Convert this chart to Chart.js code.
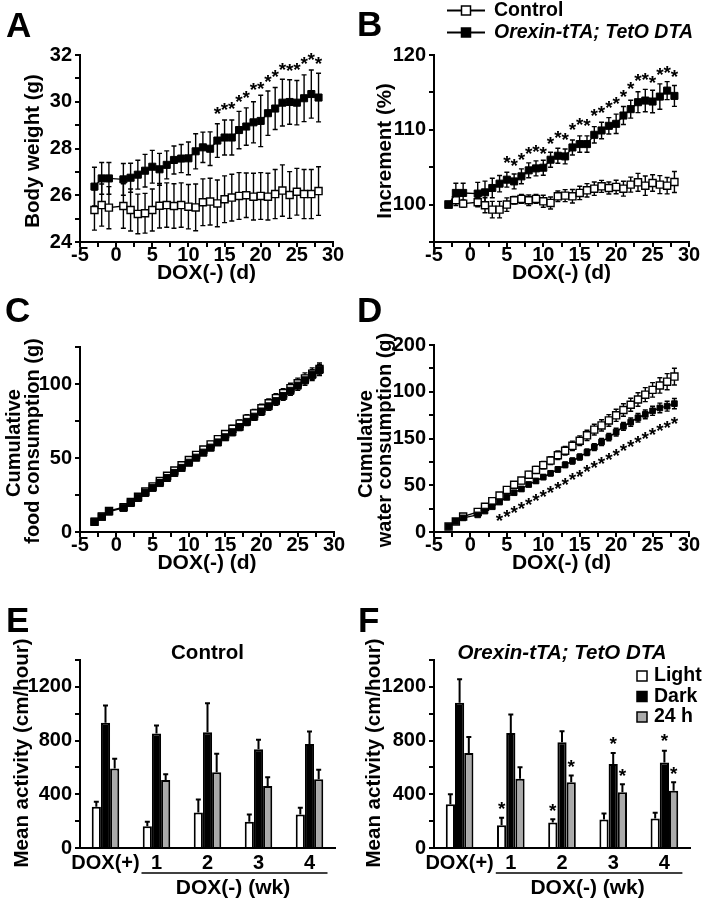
<!DOCTYPE html>
<html>
<head>
<meta charset="utf-8">
<title>Orexin-tTA; TetO DTA</title>
<script src="https://cdn.jsdelivr.net/npm/chart.js@4.4.1/dist/chart.umd.min.js"></script>
<style>
  html, body { margin: 0; background: #fff; }
  #figure { position: relative; width: 704px; height: 900px; }
  #figure canvas { position: absolute; }
</style>
</head>
<body>
<div id="figure">
  <canvas id="panelA" width="352" height="290" style="left:0;top:0"></canvas>
  <canvas id="panelB" width="352" height="290" style="left:352px;top:0"></canvas>
  <canvas id="panelC" width="352" height="290" style="left:0;top:290px"></canvas>
  <canvas id="panelD" width="352" height="290" style="left:352px;top:290px"></canvas>
  <canvas id="panelE" width="352" height="320" style="left:0;top:580px"></canvas>
  <canvas id="panelF" width="352" height="320" style="left:352px;top:580px"></canvas>
</div>
<script>
'use strict';

// ---- data ----
const days = [-3, -2, -1, 1, 2, 3, 4, 5, 6, 7, 8, 9, 10, 11, 12, 13, 14, 15, 16, 17, 18, 19, 20, 21, 22, 23, 24, 25, 26, 27, 28];

// A: body weight (g)
const weightCtrl = [25.37, 25.58, 25.47, 25.54, 25.37, 25.20, 25.23, 25.37, 25.55, 25.58, 25.54, 25.58, 25.51, 25.48, 25.70, 25.73, 25.65, 25.83, 25.90, 25.97, 26.00, 25.94, 25.97, 25.94, 26.05, 26.20, 26.01, 26.15, 26.05, 26.05, 26.18];
const weightCtrlErr = [0.86, 0.90, 0.90, 0.95, 0.90, 0.85, 0.85, 0.90, 0.95, 0.95, 0.95, 0.95, 0.95, 1.00, 1.00, 1.00, 1.00, 1.00, 1.00, 1.00, 0.95, 1.00, 1.00, 1.00, 1.05, 1.10, 1.00, 1.00, 1.05, 1.05, 1.04];
const weightDta = [26.37, 26.72, 26.72, 26.68, 26.75, 26.88, 27.05, 27.22, 27.11, 27.30, 27.51, 27.57, 27.58, 27.88, 28.05, 27.99, 28.34, 28.47, 28.47, 28.79, 28.94, 29.12, 29.18, 29.51, 29.71, 29.96, 29.99, 29.96, 30.15, 30.33, 30.18];
const weightDtaErr = [0.83, 0.68, 0.68, 0.68, 0.62, 0.62, 0.70, 0.70, 0.68, 0.60, 0.60, 0.60, 0.70, 0.75, 0.65, 0.72, 0.72, 0.75, 0.75, 0.80, 0.80, 0.88, 1.10, 0.95, 0.90, 1.00, 0.95, 0.95, 1.00, 1.03, 1.04];
const weightStarDays = [14, 15, 16, 17, 18, 19, 20, 21, 22, 23, 24, 25, 26, 27, 28];
const weightStarVals = [29.65, 29.82, 29.86, 30.19, 30.36, 30.68, 30.75, 31.05, 31.25, 31.57, 31.50, 31.53, 31.79, 31.96, 31.82];

// B: increment (%)
const incCtrl = [100, 100.58, 100.13, 100.31, 99.91, 99.33, 99.33, 100.0, 100.58, 100.76, 100.58, 100.76, 100.44, 100.22, 101.11, 101.2, 101.11, 101.56, 101.91, 102.13, 102.44, 102.22, 102.36, 102.13, 102.67, 102.98, 102.53, 102.89, 102.67, 102.53, 103.02];
const incCtrlErr = [0.2, 0.7, 0.5, 0.6, 1.0, 1.1, 1.1, 0.9, 0.5, 0.6, 0.7, 0.6, 0.8, 0.8, 0.7, 0.8, 0.9, 0.9, 0.9, 0.9, 0.8, 0.8, 0.9, 1.0, 1.0, 1.2, 1.3, 1.1, 1.2, 1.1, 1.4];
const incDta = [100, 101.56, 101.56, 101.47, 101.64, 102.22, 102.8, 103.33, 103.1, 103.78, 104.58, 104.84, 104.93, 106.0, 106.53, 106.44, 107.64, 108.09, 108.09, 109.33, 109.91, 110.53, 110.8, 111.91, 112.76, 113.69, 113.91, 113.78, 114.44, 115.24, 114.53];
const incDtaErr = [0.2, 1.3, 1.3, 1.5, 1.5, 1.3, 1.1, 1.0, 1.0, 1.0, 1.0, 1.0, 1.0, 1.0, 1.0, 1.0, 1.0, 1.1, 1.1, 1.1, 1.1, 1.1, 1.3, 1.2, 1.2, 1.4, 1.5, 1.5, 1.7, 1.2, 1.4];
const incStarDays = [5, 6, 7, 8, 9, 10, 11, 12, 13, 14, 15, 16, 17, 18, 19, 20, 21, 22, 23, 24, 25, 26, 27, 28];
const incStarVals = [106.22, 105.78, 106.53, 107.42, 107.69, 107.42, 108.76, 109.47, 109.2, 110.53, 111.2, 111.11, 112.44, 112.89, 113.56, 114.0, 114.98, 116.0, 117.11, 117.2, 116.89, 117.91, 118.22, 117.64];

// C: cumulative food consumption (g)
const foodCtrl = [7.0, 10.5, 14.2, 16.8, 20.2, 23.8, 27.3, 30.8, 34.4, 38.0, 41.5, 45.1, 48.6, 52.1, 55.7, 59.2, 62.7, 66.2, 69.7, 73.2, 76.6, 80.1, 83.6, 87.0, 90.4, 93.8, 97.2, 100.5, 103.8, 107.0, 110.2];
const foodCtrlErr = [0.5, 0.6, 0.7, 0.8, 0.9, 1.0, 1.1, 1.2, 1.3, 1.4, 1.5, 1.6, 1.7, 1.8, 1.9, 2.0, 2.1, 2.2, 2.3, 2.5, 2.6, 2.7, 2.8, 2.9, 3.0, 3.1, 3.3, 3.5, 3.7, 3.9, 4.1];
const foodDta = [6.9, 10.3, 13.8, 16.3, 19.6, 23.0, 26.4, 29.8, 33.1, 36.5, 39.9, 43.3, 46.8, 50.2, 53.6, 57.0, 60.5, 64.0, 67.4, 70.9, 74.4, 77.9, 81.4, 84.9, 88.4, 91.9, 95.4, 98.9, 102.5, 106.0, 109.5];
const foodDtaErr = [0.5, 0.6, 0.7, 0.8, 0.9, 1.0, 1.1, 1.2, 1.3, 1.4, 1.5, 1.6, 1.6, 1.7, 1.8, 1.9, 2.0, 2.1, 2.2, 2.3, 2.4, 2.5, 2.6, 2.7, 2.8, 2.9, 3.0, 3.2, 3.4, 3.6, 3.8];

// D: cumulative water consumption (g); the axis prints its labels in this order
const waterCtrl = [5.8, 11.2, 16.5, 21.5, 27.0, 33.0, 39.0, 45.0, 50.5, 55.0, 61.3, 66.4, 71.5, 76.4, 82.1, 86.9, 92.2, 97.6, 103.4, 109.5, 114.0, 119.3, 124.8, 130.5, 136.1, 141.7, 146.9, 152.0, 156.7, 160.8, 166.2];
const waterCtrlErr = [1.0, 1.2, 1.5, 1.8, 2.0, 2.2, 2.5, 2.7, 3.0, 3.2, 3.5, 3.7, 4.0, 4.2, 4.5, 4.7, 5.0, 5.2, 5.5, 5.7, 6.0, 6.2, 6.5, 6.7, 7.0, 7.2, 7.5, 7.8, 8.2, 8.6, 9.0];
const waterDta = [5.8, 11.4, 15.1, 18.3, 22.4, 27.0, 32.0, 37.0, 42.0, 46.0, 50.8, 54.6, 58.8, 62.8, 67.0, 71.8, 76.0, 80.2, 85.2, 90.8, 96.3, 101.5, 106.8, 113.0, 117.5, 122.2, 125.8, 129.6, 132.7, 134.6, 137.3];
const waterDtaErr = [0.8, 1.0, 1.2, 1.3, 1.5, 1.6, 1.8, 1.9, 2.0, 2.2, 2.3, 2.5, 2.6, 2.8, 2.9, 3.0, 3.2, 3.3, 3.5, 3.6, 3.8, 3.9, 4.1, 4.2, 4.4, 4.5, 4.7, 4.9, 5.1, 5.3, 5.5];
const waterStarDays = [4, 5, 6, 7, 8, 9, 10, 11, 12, 13, 14, 15, 16, 17, 18, 19, 20, 21, 22, 23, 24, 25, 26, 27, 28];
const waterStarVals = [16.0, 20.5, 25.0, 29.5, 34.0, 38.0, 42.5, 46.5, 51.0, 55.5, 60.0, 64.0, 68.5, 73.0, 77.5, 82.0, 86.5, 91.0, 95.5, 100.0, 104.0, 108.5, 112.5, 116.5, 120.5];
const waterTickValues = [0, 50, 100, 150, 200];
const waterTickText = ['0', '50', '150', '100', '200'];

// E, F: mean activity (cm/hour)
const weeks = ['DOX(+)', '1', '2', '3', '4'];
const phases = ['Light', 'Dark', '24 h'];
const ctrlLight = [307, 162, 265, 195, 250];
const ctrlLightErr = [38, 33, 97, 55, 50];
const ctrlDark = [932, 852, 862, 735, 775];
const ctrlDarkErr = [130, 60, 215, 72, 92];
const ctrlDay = [592, 507, 565, 462, 512];
const ctrlDayErr = [73, 43, 137, 65, 70];
const dtaLight = [325, 170, 190, 212, 220];
const dtaLightErr = [75, 55, 25, 45, 42];
const dtaDark = [1082, 857, 787, 625, 637];
const dtaDarkErr = [175, 138, 83, 82, 88];
const dtaDay = [707, 515, 490, 415, 427];
const dtaDayErr = [120, 87, 50, 60, 63];
const dtaStarSeries = [0, 0, 2, 1, 2, 1, 2];
const dtaStarWeeks = [1, 2, 2, 3, 3, 4, 4];
const dtaStarVals = [320, 312, 640, 807, 570, 832, 587];

// ---- drawing ----
const FONT = "'Liberation Sans', Arial, Helvetica, sans-serif";
const INK = '#000';
const GREY = '#aaaaaa';
const STAR_SIZE = 19;

function font(size, style = 'normal') {
    return { family: FONT, size, weight: 'bold', style, lineHeight: 1 };
}

function css(size, style = 'normal', weight = 'bold') {
    return `${style} ${weight} ${size}px ${FONT}`;
}

function points(values) {
    return days.map((d, i) => ({ x: d, y: values[i] }));
}

function text(ctx, str, x, y, size, opts = {}) {
    ctx.save();
    ctx.translate(x, y);
    if (opts.vertical) ctx.rotate(-Math.PI / 2);
    ctx.font = css(size, opts.style || 'normal');
    ctx.fillStyle = INK;
    ctx.textAlign = opts.align || 'center';
    ctx.textBaseline = opts.baseline || 'middle';
    ctx.fillText(str, 0, 0);
    ctx.restore();
}

function star(ctx, x, y) {
    ctx.save();
    ctx.font = css(STAR_SIZE);
    ctx.fillStyle = INK;
    ctx.textAlign = 'center';
    ctx.textBaseline = 'alphabetic';
    ctx.fillText('*', x, y + STAR_SIZE * 0.55);
    ctx.restore();
}

function drawErrorBars(chart, bothWays) {
    const ctx = chart.ctx;
    const yScale = chart.scales.y;
    ctx.save();
    ctx.strokeStyle = INK;
    ctx.lineWidth = bothWays ? 1.4 : 2;
    chart.data.datasets.forEach((ds, i) => {
        if (!ds.errors) return;
        chart.getDatasetMeta(i).data.forEach((el, j) => {
            const raw = ds.data[j];
            const v = typeof raw === 'object' ? raw.y : raw;
            const e = ds.errors[j];
            const top = yScale.getPixelForValue(v + e);
            const bottom = bothWays ? yScale.getPixelForValue(v - e) : el.y;
            ctx.beginPath();
            ctx.moveTo(el.x, top);
            ctx.lineTo(el.x, bottom);
            ctx.moveTo(el.x - 2.5, top);
            ctx.lineTo(el.x + 2.5, top);
            if (bothWays) {
                ctx.moveTo(el.x - 2.5, bottom);
                ctx.lineTo(el.x + 2.5, bottom);
            }
            ctx.stroke();
        });
    });
    ctx.restore();
}

const errorBars = {
    id: 'errorBars',
    beforeDatasetsDraw(chart) {
        if (chart.config.type === 'line') drawErrorBars(chart, true);
    },
    afterDatasetsDraw(chart) {
        if (chart.config.type === 'bar') drawErrorBars(chart, false);
    }
};

function lineStars(starDays, starVals) {
    return {
        id: 'lineStars',
        afterDatasetsDraw(chart) {
            const { x, y } = chart.scales;
            starDays.forEach((d, i) => star(chart.ctx, x.getPixelForValue(d), y.getPixelForValue(starVals[i])));
        }
    };
}

function axisTicks(size, step, min, max, label, extra = {}) {
    return Object.assign({
        type: 'linear',
        min,
        max,
        afterFit: scale => {
            if (scale.isHorizontal()) scale.height = size;
            else scale.width = size;
        },
        ticks: { stepSize: step, autoSkip: false, maxRotation: 0, color: INK, font: font(20), padding: 3, callback: label },
        grid: { drawOnChartArea: false, color: INK, lineWidth: 2, tickLength: 5 },
        border: { color: INK, width: 2 }
    }, extra);
}

function lineChart(id, cfg) {
    const ctrlStyle = {
        borderColor: INK, borderWidth: 1.4, backgroundColor: '#fff',
        pointStyle: 'rect', pointRadius: 5, pointBorderWidth: 1.4, pointBackgroundColor: '#fff', pointBorderColor: INK
    };
    const dtaStyle = {
        borderColor: INK, borderWidth: 1.4, backgroundColor: INK,
        pointStyle: 'rect', pointRadius: cfg.dtaRadius || 5, pointBorderWidth: 1, pointBackgroundColor: INK, pointBorderColor: INK
    };
    const x = axisTicks(290 - 242, 2.5, -5, 30, v => (v % 5 === 0 ? v : ''), {
        title: { display: true, text: 'DOX(-) (d)', color: INK, font: font(21), padding: { top: 0, bottom: 6.5 } }
    });
    x.ticks.padding = -2;
    return new Chart(document.getElementById(id), {
        type: 'line',
        data: {
            datasets: [
                Object.assign({ label: 'Orexin-tTA; TetO DTA', data: points(cfg.dta), errors: cfg.dtaErr, order: 0 }, dtaStyle),
                Object.assign({ label: 'Control', data: points(cfg.ctrl), errors: cfg.ctrlErr, order: 1 }, ctrlStyle)
            ]
        },
        options: {
            responsive: false,
            animation: false,
            layout: { padding: { left: 0, top: cfg.top, right: cfg.right, bottom: 0 } },
            elements: { line: { tension: 0 } },
            plugins: { legend: { display: false }, tooltip: { enabled: false } },
            scales: {
                x,
                y: axisTicks(cfg.left, cfg.step, cfg.min, cfg.max, cfg.label)
            }
        },
        plugins: [errorBars, cfg.stars || { id: 'noStars' }, { id: 'decor', afterDraw: cfg.decor }]
    });
}

function barChart(id, cfg) {
    const common = { borderColor: INK, borderWidth: 2, categoryPercentage: 0.54, barPercentage: 1 };
    return new Chart(document.getElementById(id), {
        type: 'bar',
        data: {
            labels: weeks,
            datasets: [
                Object.assign({ label: phases[0], data: cfg.light, errors: cfg.lightErr, backgroundColor: '#fff' }, common),
                Object.assign({ label: phases[1], data: cfg.dark, errors: cfg.darkErr, backgroundColor: INK }, common),
                Object.assign({ label: phases[2], data: cfg.day, errors: cfg.dayErr, backgroundColor: GREY }, common)
            ]
        },
        options: {
            responsive: false,
            animation: false,
            layout: { padding: { left: 0, top: 80, right: cfg.right, bottom: 0 } },
            plugins: { legend: { display: false }, tooltip: { enabled: false } },
            scales: {
                x: {
                    z: 1,
                    afterFit: scale => { scale.height = 320 - 268; },
                    ticks: { color: INK, font: font(20), padding: -3, maxRotation: 0, autoSkip: false },
                    grid: { display: false },
                    border: { color: INK, width: 2 }
                },
                y: axisTicks(cfg.left, 200, 0, 1400, v => (v % 400 === 0 ? v : ''))
            }
        },
        plugins: [errorBars, { id: 'decor', afterDraw: cfg.decor }]
    });
}

// the line under weeks 1-4 and its caption
function weekCaption(chart) {
    const ctx = chart.ctx;
    const x = chart.scales.x;
    const left = x.getPixelForValue(1) - 15;
    const right = x.getPixelForValue(4) + 18;
    ctx.save();
    ctx.strokeStyle = INK;
    ctx.lineWidth = 1.5;
    ctx.beginPath();
    ctx.moveTo(left, 293);
    ctx.lineTo(right, 293);
    ctx.stroke();
    ctx.restore();
    text(ctx, 'DOX(-) (wk)', (x.getPixelForValue(1) + x.getPixelForValue(4)) / 2, 308, 21);
}

lineChart('panelA', {
    ctrl: weightCtrl, ctrlErr: weightCtrlErr, dta: weightDta, dtaErr: weightDtaErr,
    min: 24, max: 32, step: 1, label: v => (v % 2 === 0 ? v : ''),
    left: 80, top: 55, right: 352 - 333,
    stars: lineStars(weightStarDays, weightStarVals),
    decor(chart) {
        const ctx = chart.ctx;
        text(ctx, 'A', 6, 37, 35, { align: 'left', baseline: 'alphabetic' });
        text(ctx, 'Body weight (g)', 33, 151, 20.5, { vertical: true });
    }
});

lineChart('panelB', {
    ctrl: incCtrl, ctrlErr: incCtrlErr, dta: incDta, dtaErr: incDtaErr,
    min: 95, max: 120, step: 5, label: v => (v % 10 === 0 ? v : ''),
    left: 82, top: 55, right: 352 - 337,
    stars: lineStars(incStarDays, incStarVals),
    decor(chart) {
        const ctx = chart.ctx;
        text(ctx, 'B', 5, 36, 35, { align: 'left', baseline: 'alphabetic' });
        text(ctx, 'Increment (%)', 33, 151, 20.5, { vertical: true });
        // legend
        const rows = [{ y: 10.5, fill: '#fff', label: 'Control', style: 'normal' },
                      { y: 32.5, fill: INK, label: 'Orexin-tTA; TetO DTA', style: 'italic' }];
        rows.forEach(r => {
            ctx.save();
            ctx.strokeStyle = INK;
            ctx.lineWidth = 2;
            ctx.beginPath();
            ctx.moveTo(95, r.y);
            ctx.lineTo(133, r.y);
            ctx.stroke();
            ctx.fillStyle = r.fill;
            ctx.lineWidth = 1.5;
            ctx.fillRect(109.5, r.y - 4.5, 9, 9);
            ctx.strokeRect(109.5, r.y - 4.5, 9, 9);
            ctx.restore();
            text(ctx, r.label, 142, r.y, 19.5, { align: 'left', style: r.style });
        });
    }
});

lineChart('panelC', {
    ctrl: foodCtrl, ctrlErr: foodCtrlErr, dta: foodDta, dtaErr: foodDtaErr,
    min: 0, max: 125, step: 25, label: v => (v % 50 === 0 ? v : ''),
    left: 80, top: 57, right: 352 - 334,
    decor(chart) {
        const ctx = chart.ctx;
        text(ctx, 'C', 5, 32, 35, { align: 'left', baseline: 'alphabetic' });
        text(ctx, 'Cumulative', 14, 153, 20, { vertical: true });
        text(ctx, 'food consumption (g)', 33, 151, 20, { vertical: true });
    }
});

lineChart('panelD', {
    ctrl: waterCtrl, ctrlErr: waterCtrlErr, dta: waterDta, dtaErr: waterDtaErr, dtaRadius: 4,
    min: 0, max: 200, step: 25,
    label: v => { const k = waterTickValues.indexOf(v); return k < 0 ? '' : waterTickText[k]; },
    left: 82, top: 55, right: 352 - 337,
    stars: lineStars(waterStarDays, waterStarVals),
    decor(chart) {
        const ctx = chart.ctx;
        text(ctx, 'D', 5, 32, 35, { align: 'left', baseline: 'alphabetic' });
        text(ctx, 'Cumulative', 14, 154, 20, { vertical: true });
        text(ctx, 'water consumption (g)', 33, 150, 20, { vertical: true });
    }
});

barChart('panelE', {
    light: ctrlLight, lightErr: ctrlLightErr, dark: ctrlDark, darkErr: ctrlDarkErr, day: ctrlDay, dayErr: ctrlDayErr,
    left: 80, right: 352 - 335,
    decor(chart) {
        const ctx = chart.ctx;
        const area = chart.chartArea;
        text(ctx, 'E', 6, 52, 35, { align: 'left', baseline: 'alphabetic' });
        text(ctx, 'Control', (area.left + area.right) / 2, 73, 20.5);
        text(ctx, 'Mean activity (cm/hour)', 22, 173, 20.5, { vertical: true });
        weekCaption(chart);
    }
});

barChart('panelF', {
    light: dtaLight, lightErr: dtaLightErr, dark: dtaDark, darkErr: dtaDarkErr, day: dtaDay, dayErr: dtaDayErr,
    left: 82, right: 352 - 338,
    decor(chart) {
        const ctx = chart.ctx;
        const area = chart.chartArea;
        const y = chart.scales.y;
        text(ctx, 'F', 6, 52, 35, { align: 'left', baseline: 'alphabetic' });
        text(ctx, 'Orexin-tTA; TetO DTA', (area.left + area.right) / 2, 73, 20.5, { style: 'italic' });
        text(ctx, 'Mean activity (cm/hour)', 22, 173, 20.5, { vertical: true });
        weekCaption(chart);
        dtaStarSeries.forEach((s, i) => {
            const bar = chart.getDatasetMeta(s).data[dtaStarWeeks[i]];
            star(ctx, bar.x, y.getPixelForValue(dtaStarVals[i]));
        });
        // legend
        chart.data.datasets.forEach((ds, i) => {
            const cy = 96 + i * 20.5;
            ctx.save();
            ctx.fillStyle = ds.backgroundColor;
            ctx.strokeStyle = INK;
            ctx.lineWidth = 1.5;
            ctx.fillRect(285, cy - 5, 10, 10);
            ctx.strokeRect(285, cy - 5, 10, 10);
            ctx.restore();
            text(ctx, ds.label, 302, cy, 19.5, { align: 'left' });
        });
    }
});
</script>
</body>
</html>
